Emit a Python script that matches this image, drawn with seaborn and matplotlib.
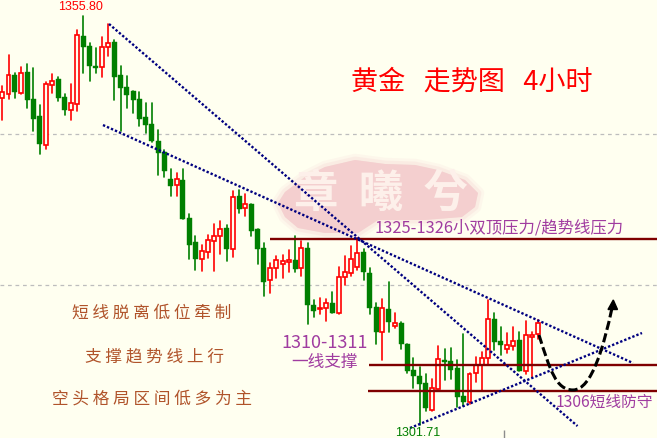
import numpy as np
import pandas as pd
import seaborn as sns
import matplotlib.pyplot as plt
from matplotlib.path import Path
from matplotlib.patches import PathPatch

# 4 hour gold candles
opens = [1345.00, 1345.53, 1348.00, 1345.67, 1348.40, 1344.83, 1342.58, 1338.79, 1346.72, 1347.48,
         1345.10, 1343.42, 1344.21, 1353.16, 1351.84, 1349.19, 1349.10, 1351.75, 1352.37, 1348.00,
         1346.42, 1345.89, 1344.83, 1342.45, 1341.53, 1339.28, 1337.83, 1334.22, 1333.42, 1334.12,
         1329.10, 1325.93, 1323.64, 1324.57, 1326.02, 1326.68, 1327.78, 1325.04, 1332.01, 1330.38,
         1330.95, 1327.65, 1325.13, 1320.86, 1322.45, 1322.98, 1323.28, 1323.55, 1322.53, 1325.13,
         1317.56, 1317.07, 1317.16, 1317.86, 1316.58, 1321.26, 1321.87, 1322.58, 1324.61, 1321.79,
         1317.29, 1313.99, 1317.07, 1314.86, 1315.22, 1312.44, 1309.01, 1308.21, 1307.29, 1303.72,
         1306.49, 1310.29, 1310.20, 1309.27, 1305.57, 1304.78, 1308.57, 1309.71, 1310.55, 1315.71,
         1312.84, 1311.82, 1312.22, 1312.93, 1308.87, 1313.41, 1313.73]
closes = [1345.72, 1347.97, 1345.76, 1348.23, 1344.74, 1342.19, 1338.88, 1346.82, 1347.17, 1344.96,
          1343.38, 1344.26, 1353.25, 1351.71, 1349.19, 1348.93, 1351.71, 1352.24, 1347.74, 1346.29,
          1345.36, 1344.70, 1342.19, 1341.39, 1339.28, 1337.69, 1335.35, 1333.37, 1334.22, 1328.97,
          1325.53, 1323.68, 1324.70, 1326.15, 1326.68, 1327.61, 1325.00, 1331.84, 1330.29, 1330.91,
          1327.38, 1325.00, 1320.64, 1322.45, 1323.51, 1323.38, 1323.51, 1322.36, 1325.09, 1317.60,
          1316.81, 1317.20, 1317.82, 1316.54, 1321.26, 1321.92, 1323.64, 1324.43, 1321.92, 1317.20,
          1314.07, 1317.16, 1315.39, 1315.18, 1312.44, 1308.91, 1308.21, 1307.16, 1303.98, 1306.59,
          1310.42, 1310.06, 1309.01, 1305.44, 1304.78, 1308.48, 1309.67, 1310.55, 1315.71, 1312.71,
          1312.31, 1312.27, 1312.80, 1308.87, 1313.59, 1313.63, 1315.22]
highs = [1346.55, 1350.65, 1348.31, 1349.06, 1349.46, 1348.93, 1344.04, 1347.08, 1348.14, 1347.74,
         1345.49, 1346.82, 1353.95, 1355.80, 1352.24, 1351.57, 1353.03, 1354.75, 1352.63, 1349.19,
         1347.87, 1345.89, 1345.76, 1344.30, 1344.30, 1340.73, 1338.09, 1335.58, 1335.05, 1335.58,
         1329.63, 1326.72, 1325.53, 1326.85, 1328.31, 1328.70, 1328.17, 1332.67, 1332.80, 1332.27,
         1330.95, 1327.65, 1325.80, 1323.15, 1324.08, 1324.21, 1324.87, 1326.72, 1326.06, 1325.80,
         1318.26, 1318.52, 1318.39, 1319.32, 1322.62, 1324.08, 1325.40, 1326.46, 1325.00, 1322.49,
         1317.86, 1318.39, 1320.64, 1316.54, 1315.35, 1312.44, 1310.59, 1309.40, 1308.48, 1307.82,
         1312.18, 1311.78, 1311.91, 1310.33, 1313.77, 1308.61, 1310.72, 1311.39, 1318.26, 1316.54,
         1314.69, 1313.90, 1314.69, 1314.03, 1315.48, 1314.03, 1315.62]
lows = [1342.06, 1344.83, 1345.00, 1345.45, 1343.64, 1340.60, 1337.56, 1338.22, 1345.63, 1344.57,
        1342.72, 1342.06, 1343.25, 1348.27, 1347.21, 1348.27, 1347.74, 1350.52, 1344.70, 1340.60,
        1343.64, 1342.98, 1341.26, 1340.34, 1339.15, 1334.78, 1334.56, 1332.05, 1332.05, 1328.97,
        1323.68, 1322.23, 1322.09, 1323.81, 1322.09, 1324.34, 1323.42, 1323.94, 1329.76, 1329.36,
        1326.72, 1323.02, 1318.79, 1319.19, 1321.17, 1321.17, 1321.96, 1321.96, 1321.47, 1315.09,
        1316.01, 1316.41, 1315.48, 1316.54, 1316.41, 1320.24, 1321.43, 1322.23, 1320.90, 1316.41,
        1312.44, 1310.33, 1314.03, 1314.56, 1311.78, 1308.61, 1306.63, 1301.71, 1303.59, 1303.59,
        1306.49, 1307.68, 1307.82, 1304.11, 1304.25, 1304.51, 1307.42, 1306.23, 1309.80, 1311.65,
        1310.99, 1311.25, 1311.65, 1308.87, 1308.48, 1308.08, 1313.10]

# trend lines as (bar, price) at both ends
trend_a = [(17.13, 1354.75), (92.33, 1301.60)]
trend_b = [(16.16, 1341.39), (101.24, 1309.93)]
trend_c = [(65.44, 1301.34), (102.68, 1313.90)]
# support / resistance levels: price and first bar
levels = [(1326.32, 42.97), (1309.67, 58.86), (1306.23, 58.7)]
grid_prices = [1340.20, 1320.24]

BG = '#FFFFF0'
RED = '#FF0000'
GREEN = '#007F00'
PURPLE = '#A03CA0'
BROWN = '#B0532A'
W, H = 657, 438

sns.set_theme(style='white')
plt.rcParams['font.family'] = ['Noto Sans CJK SC', 'DejaVu Sans']

bars = np.arange(len(opens))
up = np.array(closes) >= np.array(opens)
df = pd.DataFrame({'bar': bars, 'open': opens, 'close': closes, 'high': highs, 'low': lows,
                   'side': np.where(up, 'up', 'down')})
wicks = df.melt(id_vars=['bar', 'side'], value_vars=['high', 'low'], value_name='price')

fig, ax = plt.subplots(figsize=(W / 100, H / 100), dpi=100, facecolor=BG)
ax.set_position([0, 0, 1, 1])
ax.set_facecolor(BG)
ax.set_xlim(-0.369, 105.09)
ax.set_ylim(1300.02, 1357.92)
ax.set_axis_off()


def frac(x, y):
    # picture pixels to axes fractions, for the annotations
    return x / W, 1 - y / H


# watermark seal
blob = [(278, 203), (285, 192), (305, 177), (325, 167), (355, 160), (385, 164), (415, 165), (438, 170),
        (465, 180), (478, 193), (475, 207), (462, 217), (425, 220), (378, 220), (358, 233), (325, 233),
        (298, 228), (285, 217)]
blob_xy = [frac(*p) for p in blob]
for lw, alpha in [(9, 0.15), (5, 0.25), (0, 1)]:
    ax.fill(*zip(*blob_xy), transform=ax.transAxes, facecolor='#F4CFCF', edgecolor='#F4CFCF',
            lw=lw, alpha=alpha, zorder=0.5, joinstyle='round')
ax.text(*frac(381, 194), '章  曦  兮', transform=ax.transAxes, ha='center', va='center',
        fontsize=32, color='#FDF0EA', fontweight='bold', zorder=0.6)

for p in grid_prices:
    ax.axhline(p, color='#BDBDBD', lw=0.9, ls=(0, (3, 3)), zorder=1)

sns.lineplot(data=wicks, x='bar', y='price', hue='side', units='bar', estimator=None,
             palette={'up': RED, 'down': GREEN}, linewidth=1.2, legend=False, ax=ax, zorder=2)
ax.set_xlabel('')
ax.set_ylabel('')

dn = df[df['side'] == 'down']
ax.bar(dn['bar'], dn['open'] - dn['close'], bottom=dn['close'], width=0.8, color=GREEN,
       edgecolor=GREEN, lw=0.3, zorder=3)
rd = df[df['side'] == 'up']
ax.bar(rd['bar'], rd['close'] - rd['open'], bottom=rd['open'], width=0.62, facecolor=BG,
       edgecolor=RED, lw=1.2, zorder=3)
ax.vlines(80.53, 1300.02, 1301.07, color='#8C8C8C', lw=1, zorder=2)

for p, start in levels:
    ax.plot([start, 105.09], [p, p], color='#7F0000', lw=1.7, solid_capstyle='butt', zorder=4)
for line in (trend_a, trend_b, trend_c):
    ax.plot(*zip(*line), color='#000080', lw=1.7, ls=(0, (1, 0.85)), zorder=5)

# forecast path
curve = Path([frac(539, 335), frac(550, 370), frac(556, 390), frac(573, 390),
              frac(592, 390), frac(604, 345), frac(612, 308)],
             [Path.MOVETO] + [Path.CURVE4] * 6)
ax.add_patch(PathPatch(curve, transform=ax.transAxes, fill=False, edgecolor='black', lw=2.2,
                       ls=(0, (3, 1.2)), zorder=6))
ax.fill(*zip(frac(613.3, 300), frac(608, 309.5), frac(617.5, 309.5)), transform=ax.transAxes,
        color='black', zorder=6)

texts = [
    (80.5, 7.5, '1355.80', RED, 9, 'Liberation Sans'),
    (417.5, 432.5, '1301.71', GREEN, 9, 'Liberation Sans'),
    (471.5, 82, '黄金   走势图   4小时', RED, 19.5, None),
    (499.5, 228, '1325-1326小双顶压力/趋势线压力', PURPLE, 11.8, None),
    (324.5, 343.5, '1310-1311', PURPLE, 13, None),
    (325, 362, '一线支撑', PURPLE, 12, None),
    (604, 402, '1306短线防守', PURPLE, 11.3, None),
    (152, 313, '短 线 脱 离 低 位 牵 制', BROWN, 12, None),
    (154, 357, '支 撑 趋 势 线 上 行', BROWN, 12, None),
    (152.5, 399, '空 头 格 局 区 间 低 多 为 主', BROWN, 12, None),
]
for x, y, s, c, size, fam in texts:
    ax.text(*frac(x, y), s, transform=ax.transAxes, ha='center', va='center', color=c,
            fontsize=size, family=fam if fam else plt.rcParams['font.family'], zorder=7)

fig.savefig('out.png', dpi=100, facecolor=BG)
